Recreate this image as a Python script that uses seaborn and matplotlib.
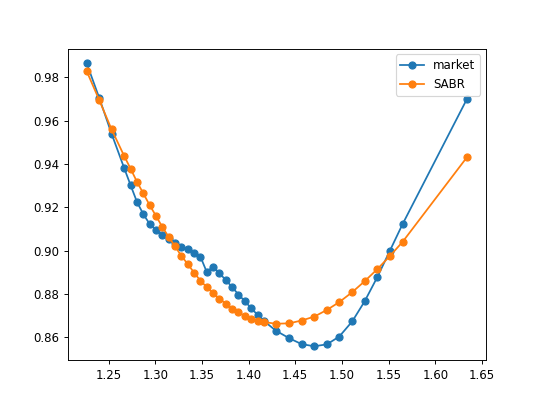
import matplotlib
matplotlib.use("Agg")
import matplotlib.pyplot as plt
import seaborn as sns
import pandas as pd

# strikes (moneyness) and implied vols
strikes = [1.2264, 1.2400, 1.2532, 1.2668, 1.2736, 1.2804, 1.2872, 1.2940,
           1.3008, 1.3076, 1.3144, 1.3212, 1.3280, 1.3348, 1.3416, 1.3484,
           1.3552, 1.3620, 1.3688, 1.3756, 1.3824, 1.3892, 1.3960, 1.4028,
           1.4096, 1.4164, 1.4293, 1.4436, 1.4568, 1.4704, 1.4840, 1.4972,
           1.5111, 1.5243, 1.5379, 1.5515, 1.5650, 1.6340]

market = [0.9867, 0.9705, 0.9540, 0.9380, 0.9302, 0.9225, 0.9168, 0.9123,
          0.9095, 0.9071, 0.9052, 0.9033, 0.9018, 0.9006, 0.8990, 0.8972,
          0.8901, 0.8926, 0.8895, 0.8864, 0.8831, 0.8797, 0.8766, 0.8734,
          0.8703, 0.8675, 0.8630, 0.8595, 0.8568, 0.8558, 0.8567, 0.8603,
          0.8673, 0.8765, 0.8877, 0.9000, 0.9122, 0.9700]

sabr = [0.9830, 0.9695, 0.9560, 0.9436, 0.9378, 0.9318, 0.9264, 0.9210,
        0.9160, 0.9109, 0.9063, 0.9020, 0.8975, 0.8938, 0.8898, 0.8861,
        0.8831, 0.8803, 0.8778, 0.8754, 0.8732, 0.8714, 0.8698, 0.8684,
        0.8676, 0.8670, 0.8662, 0.8664, 0.8677, 0.8695, 0.8726, 0.8762,
        0.8808, 0.8858, 0.8914, 0.8975, 0.9040, 0.9431]

df = pd.DataFrame({"strike": strikes, "market": market, "SABR": sabr})

fig, ax = plt.subplots(figsize=(6.4, 4.8), dpi=84.375)
colors = sns.color_palette("tab10")
for name, c in [("market", colors[0]), ("SABR", colors[1])]:
    sns.lineplot(ax=ax, data=df, x="strike", y=name, marker="o", color=c,
                 markeredgecolor=c, markeredgewidth=1, markersize=6,
                 linewidth=1.5, label=name)

ax.set_xlabel("")
ax.set_ylabel("")
ax.set_xticks([1.25, 1.30, 1.35, 1.40, 1.45, 1.50, 1.55, 1.60, 1.65])
plt.legend(loc="upper right")
plt.savefig("out.png", dpi=84.375)
